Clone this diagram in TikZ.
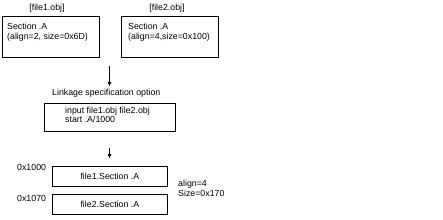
\documentclass[tikz,border=0pt]{standalone}
\usepackage{fontspec}
\setmainfont{Liberation Sans}
\usetikzlibrary{arrows.meta}
\begin{document}
\begin{tikzpicture}[x=1pt,y=-1pt,
  box/.style={draw, line width=0.8pt, inner sep=0pt, anchor=north west, font=\fontsize{8.8}{10}\selectfont},
  txt/.style={inner sep=0pt, font=\fontsize{8.8}{10}\selectfont, align=left},
  arr/.style={line width=0.8pt, -{Triangle[length=4pt,width=3.5pt]}}]
\useasboundingbox (0,0) rectangle (443,219);
% labels
\node[txt] (l1) at (47,8) {[file1.obj]};
\node[txt] (l2) at (167,8) {[file2.obj]};
% top boxes
\node[box, minimum width=97pt, minimum height=41pt] (b1) at (2,16) {};
\node[txt, anchor=north west] (t1) at (7,22.5) {Section .A\\(align=2, size=0x6D)};
\node[box, minimum width=97pt, minimum height=41pt] (b2) at (121,16) {};
\node[txt, anchor=north west] (t2) at (128,22.5) {Section .A\\(align=4,size=0x100)};
% linkage
\node[txt, anchor=west] (lk) at (52,93) {Linkage specification option};
\node[box, minimum width=131pt, minimum height=28pt] (b3) at (44,103) {};
\node[txt, anchor=north west, font=\fontsize{8.8}{9}\selectfont] (t3) at (65,106.5) {input file1.obj file2.obj\\start .A/1000};
% result boxes
\node[box, minimum width=115pt, minimum height=20pt] (b4) at (52,166) {file1.Section .A};
\node[box, minimum width=115pt, minimum height=20pt] (b5) at (52,194) {file2.Section .A};
\node[txt, anchor=west] (a1) at (17,167) {0x1000};
\node[txt, anchor=west] (a2) at (17,198) {0x1070};
\node[txt, anchor=west] (s1) at (178,188) {align=4\\Size=0x170};
% arrows
\coordinate (c1) at (109.5,66);
\coordinate (e1) at (109.5,86);
\coordinate (c2) at (109.5,148);
\coordinate (e2) at (109.5,158);
\draw[arr] (c1) -- (e1);
\draw[arr] (c2) -- (e2);
\end{tikzpicture}
\end{document}
